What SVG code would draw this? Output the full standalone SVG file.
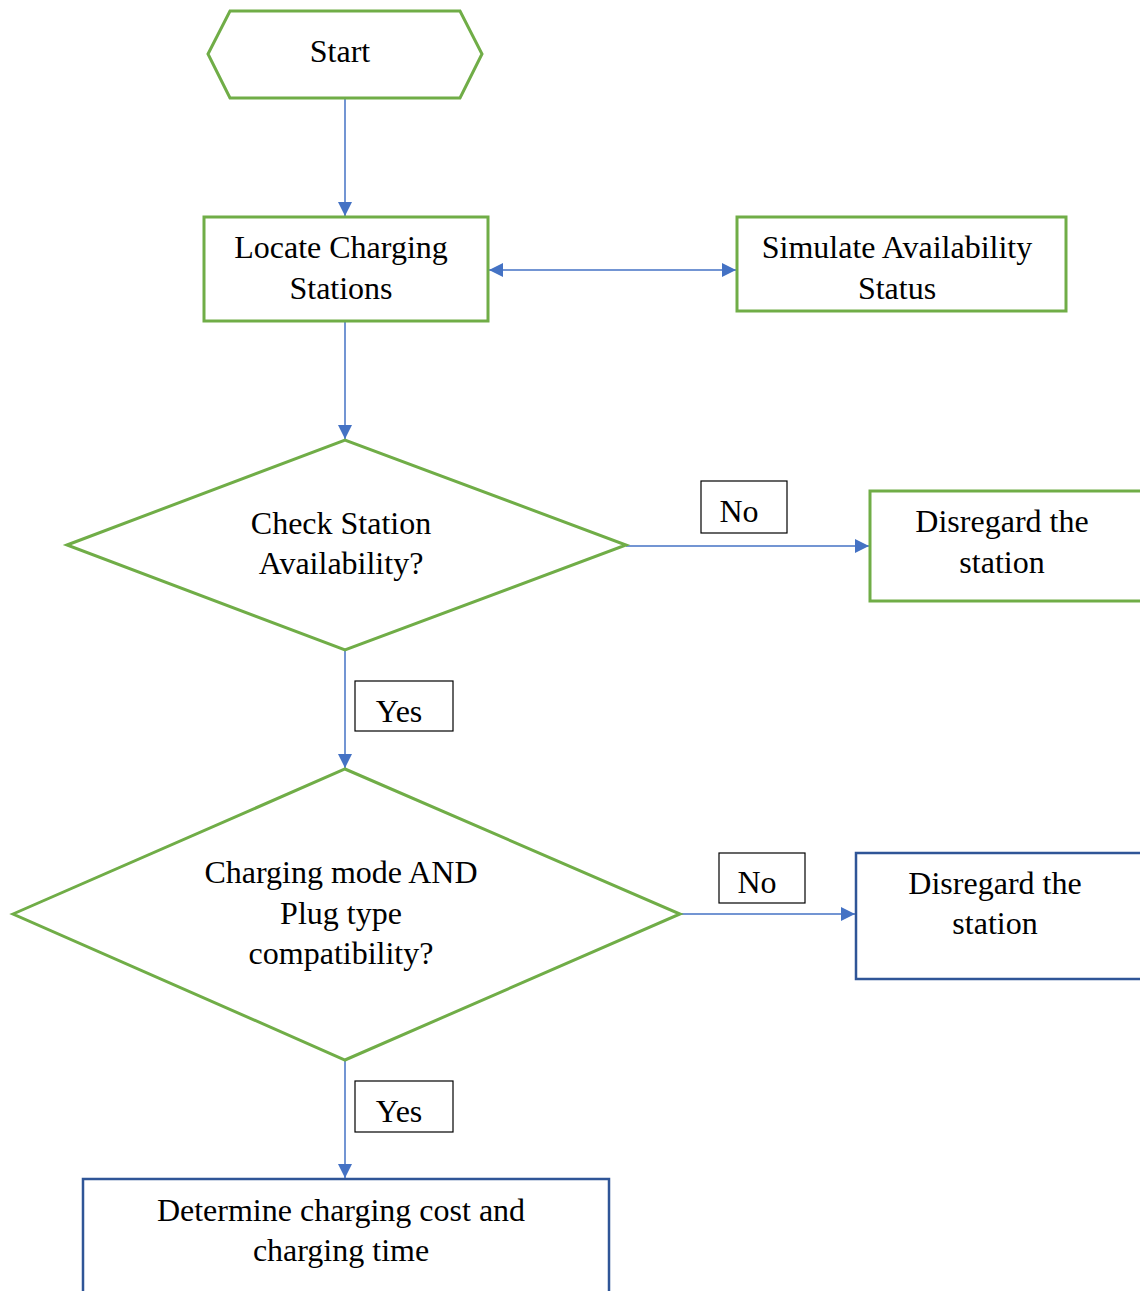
<svg xmlns="http://www.w3.org/2000/svg" width="1140" height="1291" viewBox="0 0 1140 1291">
<defs>
<marker id="ah" viewBox="0 0 10 10" refX="10" refY="5" markerWidth="14" markerHeight="14" markerUnits="userSpaceOnUse" orient="auto-start-reverse">
<path d="M0,0 L10,5 L0,10 z" fill="#4472C4"/>
</marker>
<style>
.g{fill:#fff;stroke:#70AD47;stroke-width:3}
.b{fill:#fff;stroke:#2F5597;stroke-width:2.5}
.lb{fill:#fff;stroke:#000;stroke-width:1.2}
.c{fill:none;stroke:#4472C4;stroke-width:1.5}
text{font-family:"Liberation Serif","Times New Roman",serif;font-size:32px;fill:#000;text-anchor:middle}
</style>
</defs>
<rect width="1140" height="1291" fill="#fff"/>
<g id="connectors">
<line class="c" x1="345" y1="98" x2="345" y2="216" marker-end="url(#ah)"/>
<line class="c" x1="489" y1="270" x2="736" y2="270" marker-start="url(#ah)" marker-end="url(#ah)"/>
<line class="c" x1="345" y1="321" x2="345" y2="439" marker-end="url(#ah)"/>
<line class="c" x1="626" y1="546" x2="869" y2="546" marker-end="url(#ah)"/>
<line class="c" x1="345" y1="650" x2="345" y2="768" marker-end="url(#ah)"/>
<line class="c" x1="680" y1="914" x2="855" y2="914" marker-end="url(#ah)"/>
<line class="c" x1="345" y1="1060" x2="345" y2="1178" marker-end="url(#ah)"/>
</g>
<g id="start">
<polygon class="g" points="208,54 230,11 460,11 482,54 460,98 230,98"/>
<text x="340" y="62">Start</text>
</g>
<g id="locate">
<rect class="g" x="204" y="217" width="284" height="104"/>
<text x="341" y="258">Locate Charging</text>
<text x="341" y="299">Stations</text>
</g>
<g id="simulate">
<rect class="g" x="737" y="217" width="329" height="94"/>
<text x="897" y="258">Simulate Availability</text>
<text x="897" y="299">Status</text>
</g>
<g id="check">
<polygon class="g" points="67,545 345,440 626,545 345,650"/>
<text x="341" y="534">Check Station</text>
<text x="341" y="574">Availability?</text>
</g>
<g id="no1">
<rect class="lb" x="701" y="481" width="86" height="52"/>
<text x="739" y="522">No</text>
</g>
<g id="disregard1">
<rect class="g" x="870" y="491" width="280" height="110"/>
<text x="1002" y="532">Disregard the</text>
<text x="1002" y="573">station</text>
</g>
<g id="yes1">
<rect class="lb" x="355" y="681" width="98" height="50"/>
<text x="399" y="722">Yes</text>
</g>
<g id="compat">
<polygon class="g" points="13,914 345,769 680,914 345,1060"/>
<text x="341" y="883">Charging mode AND</text>
<text x="341" y="924">Plug type</text>
<text x="341" y="964">compatibility?</text>
</g>
<g id="no2">
<rect class="lb" x="719" y="853" width="86" height="50"/>
<text x="757" y="893">No</text>
</g>
<g id="disregard2">
<rect class="b" x="856" y="853" width="294" height="126"/>
<text x="995" y="894">Disregard the</text>
<text x="995" y="934">station</text>
</g>
<g id="yes2">
<rect class="lb" x="355" y="1081" width="98" height="51"/>
<text x="399" y="1122">Yes</text>
</g>
<g id="determine">
<rect class="b" x="83" y="1179" width="526" height="130"/>
<text x="341" y="1221">Determine charging cost and</text>
<text x="341" y="1261">charging time</text>
</g>
</svg>
